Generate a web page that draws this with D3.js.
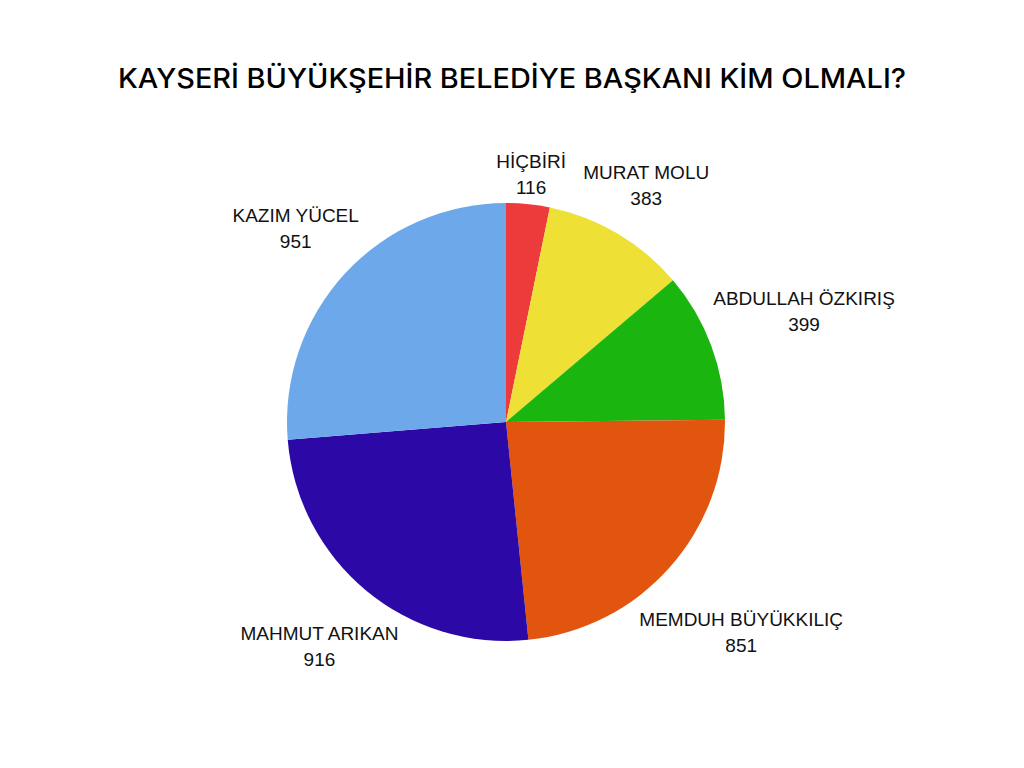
<!DOCTYPE html>
<html>
<head>
<meta charset="utf-8">
<script src="https://cdn.jsdelivr.net/npm/d3@7/dist/d3.min.js"></script>
<style>
  body { margin: 0; background: #fff; }
  svg { display: block; }
</style>
</head>
<body>
<div id="chart"></div>
<script>
// data
var candidates = ["HİÇBİRİ", "MURAT MOLU", "ABDULLAH ÖZKIRIŞ", "MEMDUH BÜYÜKKILIÇ", "MAHMUT ARIKAN", "KAZIM YÜCEL"];
var votes = [116, 383, 399, 851, 916, 951];
var colors = ["#ED3A3A", "#EFE036", "#1BB50F", "#E2550E", "#2C08A6", "#6DA9EA"];
var title = "KAYSERİ BÜYÜKŞEHİR BELEDİYE BAŞKANI KİM OLMALI?";

var width = 1024, height = 768;
var cx = 506, cy = 422, radius = 219;

var svg = d3.select("#chart").append("svg")
    .attr("width", width)
    .attr("height", height);

svg.append("text")
    .attr("x", 512)
    .attr("y", 88)
    .attr("text-anchor", "middle")
    .attr("textLength", 788)
    .attr("lengthAdjust", "spacingAndGlyphs")
    .style("font-family", "Inter, 'Noto Sans', sans-serif")
    .style("font-weight", 500)
    .style("font-size", "27px")
    .style("fill", "#000")
    .text(title);

var rows = candidates.map(function(c, i) {
    return { name: c, value: votes[i], color: colors[i] };
});

var pie = d3.pie()
    .sort(null)
    .value(function(d) { return d.value; });

var arc = d3.arc()
    .innerRadius(0)
    .outerRadius(radius);

var g = svg.append("g")
    .attr("transform", "translate(" + cx + "," + cy + ")");

var slices = pie(rows);

g.selectAll(".slice")
    .data(slices)
    .enter().append("path")
    .attr("class", "slice")
    .attr("d", arc)
    .style("fill", function(d) { return d.data.color; });

//labels: two lines, pushed out so the box sits just off the rim
var lineGap = 26, pad = 7, halfH = 20;
var labels = g.selectAll(".label")
    .data(slices)
    .enter().append("g")
    .attr("class", "label");

labels.each(function(d) {
    var el = d3.select(this);
    var t1 = el.append("text")
        .attr("text-anchor", "middle")
        .attr("y", -lineGap / 2 + 7)
        .style("font-family", "'Liberation Sans', Arial, sans-serif")
        .style("font-size", "19px")
        .style("fill", "#111")
        .text(d.data.name);
    el.append("text")
        .attr("text-anchor", "middle")
        .attr("y", lineGap / 2 + 7)
        .style("font-family", "'Liberation Sans', Arial, sans-serif")
        .style("font-size", "19px")
        .style("fill", "#111")
        .text(d.data.value);
    var halfW = t1.node().getComputedTextLength() / 2;
    var a = (d.startAngle + d.endAngle) / 2;
    var r = radius + pad + Math.abs(halfW * Math.sin(a)) + Math.abs(halfH * Math.cos(a));
    el.attr("transform", "translate(" + (r * Math.sin(a)) + "," + (-r * Math.cos(a)) + ")");
});
</script>
</body>
</html>
